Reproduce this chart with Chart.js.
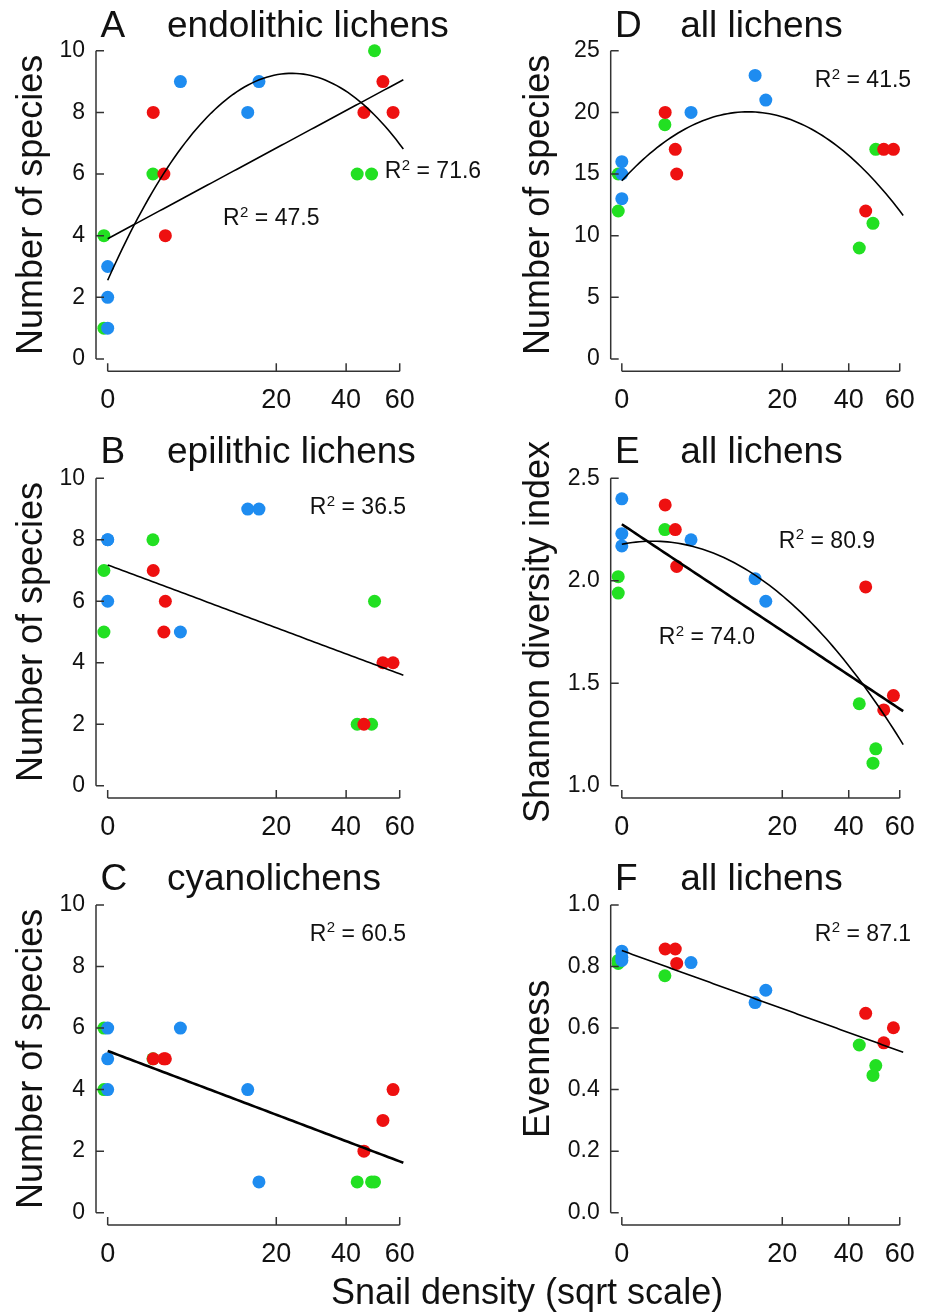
<!DOCTYPE html>
<html>
<head>
<meta charset="utf-8">
<script src="https://cdn.jsdelivr.net/npm/chart.js@4.4.1/dist/chart.umd.min.js"></script>
<style>
  html, body { margin: 0; padding: 0; background: #fff; }
  #fig { position: relative; width: 928px; height: 1313px; overflow: hidden; }
  #fig canvas { position: absolute; }
  #xlab {
    position: absolute; left: 331px; top: 1274px;
    font: 36px "Liberation Sans", Arial, sans-serif; line-height: 36px;
    white-space: nowrap; color: #111;
  }
</style>
</head>
<body>
<div id="fig">
  <canvas id="pA" width="520" height="420" style="left:0;top:0"></canvas>
  <canvas id="pD" width="464" height="420" style="left:464px;top:0"></canvas>
  <canvas id="pB" width="520" height="430" style="left:0;top:420px"></canvas>
  <canvas id="pE" width="464" height="430" style="left:464px;top:420px"></canvas>
  <canvas id="pC" width="520" height="463" style="left:0;top:850px"></canvas>
  <canvas id="pF" width="464" height="463" style="left:464px;top:850px"></canvas>
  <div id="xlab">Snail density (sqrt scale)</div>
</div>
<script>
// snail density at each site, three site groups of six
const densityGreen = [0, 0, 1.44, 43.8, 49.0, 50.1];
const densityRed   = [1.46, 2.22, 2.34, 46.2, 53.3, 57.3];
const densityBlue  = [0, 0, 0, 3.72, 13.8, 16.1];

// A: endolithic lichens, number of species
const endoGreen = [4, 1, 6, 6, 6, 10];
const endoRed   = [8, 6, 4, 8, 9, 8];
const endoBlue  = [3, 2, 1, 9, 8, 9];

// B: epilithic lichens
const epiGreen = [7, 5, 8, 2, 2, 6];
const epiRed   = [7, 5, 6, 2, 4, 4];
const epiBlue  = [8, 6, 8, 5, 9, 9];

// C: cyanolichens
const cyanoGreen = [6, 4, 5, 1, 1, 1];
const cyanoRed   = [5, 5, 5, 2, 3, 4];
const cyanoBlue  = [6, 5, 4, 6, 4, 1];

// D: all lichens, number of species
const allGreen = [15, 12, 19, 9, 11, 17];
const allRed   = [20, 17, 15, 12, 17, 17];
const allBlue  = [16, 15, 13, 20, 23, 21];

// E: Shannon diversity
const shannonGreen = [2.02, 1.94, 2.25, 1.40, 1.11, 1.18];
const shannonRed   = [2.37, 2.25, 2.07, 1.97, 1.37, 1.44];
const shannonBlue  = [2.40, 2.23, 2.17, 2.20, 2.01, 1.90];

// F: evenness
const evenGreen = [0.81, 0.82, 0.77, 0.545, 0.446, 0.478];
const evenRed   = [0.857, 0.857, 0.81, 0.648, 0.552, 0.601];
const evenBlue  = [0.85, 0.83, 0.82, 0.813, 0.683, 0.723];

// R² of the fits, linear first
const r2Endo = ["47.5", "71.6"];
const r2Epi = ["36.5"];
const r2Cyano = ["60.5"];
const r2All = ["41.5"];
const r2Shannon = ["74.0", "80.9"];
const r2Even = ["87.1"];

const xTicks = [0, 20, 40, 60];
const countTicks = [0, 2, 4, 6, 8, 10];
const allTicks = [0, 5, 10, 15, 20, 25];
const shannonTicks = [1.0, 1.5, 2.0, 2.5];
const evenTicks = [0, 0.2, 0.4, 0.6, 0.8, 1.0];

const FONT = '"Liberation Sans", Arial, Helvetica, sans-serif';
const INK = '#111';
const AXIS = '#333';
const COL_GREEN = '#22e022';
const COL_RED = '#ee1010';
const COL_BLUE = '#1e8cf0';

// sqrt axis: plotted in sqrt(density) units
const X_MIN = -0.31, X_MAX = 8.06;
const FIT_END = Math.sqrt(61.5);
// zero-density green sites are drawn just left of the others
const ZERO_SHIFT = { green: -0.1, red: 0, blue: 0 };

const panels = [
  { id: 'pA', col: 0, h: 420, top: 38.4, bottom: 371.3, titleY: 36.7, letter: 'A', name: 'endolithic lichens',
    ys: [endoGreen, endoRed, endoBlue], yMin: -0.4, yMax: 10.4, yTicks: countTicks, dec: 0,
    yTitle: 'Number of species', fits: [[1, 1.6], [2, 1.6]], r2: r2Endo, r2Pos: [[223, 225], [384.7, 178.3]] },
  { id: 'pD', col: 1, h: 420, top: 38.4, bottom: 371.3, titleY: 36.7, letter: 'D', name: 'all lichens',
    ys: [allGreen, allRed, allBlue], yMin: -1, yMax: 26, yTicks: allTicks, dec: 0,
    yTitle: 'Number of species', fits: [[2, 1.6]], r2: r2All, r2Pos: [[350.7, 87.3]] },
  { id: 'pB', col: 0, h: 430, top: 46, bottom: 378, titleY: 42.7, letter: 'B', name: 'epilithic lichens',
    ys: [epiGreen, epiRed, epiBlue], yMin: -0.4, yMax: 10.4, yTicks: countTicks, dec: 0,
    yTitle: 'Number of species', fits: [[1, 1.6]], r2: r2Epi, r2Pos: [[309.7, 94]] },
  { id: 'pE', col: 1, h: 430, top: 46, bottom: 378, titleY: 42.7, letter: 'E', name: 'all lichens',
    ys: [shannonGreen, shannonRed, shannonBlue], yMin: 0.94, yMax: 2.56, yTicks: shannonTicks, dec: 1,
    yTitle: 'Shannon diversity index', fits: [[1, 2.6], [2, 1.6]], r2: r2Shannon, r2Pos: [[194.7, 224], [314.7, 127.7]] },
  { id: 'pC', col: 0, h: 463, top: 42.7, bottom: 375, titleY: 40, letter: 'C', name: 'cyanolichens',
    ys: [cyanoGreen, cyanoRed, cyanoBlue], yMin: -0.4, yMax: 10.4, yTicks: countTicks, dec: 0,
    yTitle: 'Number of species', fits: [[1, 2.6]], r2: r2Cyano, r2Pos: [[309.7, 90.7]] },
  { id: 'pF', col: 1, h: 463, top: 42.7, bottom: 375, titleY: 40, letter: 'F', name: 'all lichens',
    ys: [evenGreen, evenRed, evenBlue], yMin: -0.04, yMax: 1.04, yTicks: evenTicks, dec: 1,
    yTitle: 'Evenness', fits: [[1, 1.6]], r2: r2Even, r2Pos: [[350.7, 90.7]] }
];

// per column: canvas width, y axis position, y title baseline, title offsets
const columns = [
  { w: 520, axisX: 96, yTitleX: 41.7, letterDX: 4.5, nameDX: 71 },
  { w: 464, axisX: 146.7, yTitleX: 85, letterDX: 4.2, nameDX: 69.5 }
];
const PLOT_W = (X_MAX - X_MIN) * 37.7;

// least squares polynomial via normal equations
function polyFit(xs, ys, degree) {
  const n = degree + 1;
  const A = Array.from({ length: n }, () => new Array(n + 1).fill(0));
  xs.forEach((x, k) => {
    for (let i = 0; i < n; i++) {
      for (let j = 0; j < n; j++) A[i][j] += Math.pow(x, i + j);
      A[i][n] += ys[k] * Math.pow(x, i);
    }
  });
  for (let i = 0; i < n; i++) {
    let p = i;
    for (let r = i + 1; r < n; r++) if (Math.abs(A[r][i]) > Math.abs(A[p][i])) p = r;
    [A[i], A[p]] = [A[p], A[i]];
    for (let r = 0; r < n; r++) {
      if (r === i) continue;
      const f = A[r][i] / A[i][i];
      for (let c = i; c <= n; c++) A[r][c] -= f * A[i][c];
    }
  }
  return A.map((row, i) => row[n] / row[i]);
}

function fitCurve(coef) {
  const pts = [];
  for (let k = 0; k <= 80; k++) {
    const x = FIT_END * k / 80;
    pts.push({ x, y: coef.reduce((s, c, i) => s + c * Math.pow(x, i), 0) });
  }
  return pts;
}

function pointSet(dens, vals, color, shift, order) {
  return {
    data: dens.map((d, i) => ({ x: Math.sqrt(d) + (d === 0 ? shift : 0), y: vals[i] })),
    backgroundColor: color, borderWidth: 0, pointRadius: 6.5, order
  };
}

// R style axes: lines span first to last tick, ticks point inward, plus titles and R² notes
function panelDecor(p, c) {
  return {
    id: 'panelDecor',
    afterDraw(chart) {
      const { ctx, chartArea, scales: { x, y } } = chart;
      ctx.save();
      ctx.strokeStyle = AXIS;
      ctx.lineWidth = 1.5;
      const ax = chartArea.left, ay = chartArea.bottom;
      const yTop = y.getPixelForValue(p.yTicks[p.yTicks.length - 1]);
      const yBot = y.getPixelForValue(p.yTicks[0]);
      ctx.beginPath();
      ctx.moveTo(ax, yTop); ctx.lineTo(ax, yBot);
      p.yTicks.forEach(v => { const py = y.getPixelForValue(v); ctx.moveTo(ax, py); ctx.lineTo(ax + 8, py); });
      const x0 = x.getPixelForValue(0), x1 = x.getPixelForValue(Math.sqrt(xTicks[xTicks.length - 1]));
      ctx.moveTo(x0, ay); ctx.lineTo(x1, ay);
      xTicks.forEach(v => { const px = x.getPixelForValue(Math.sqrt(v)); ctx.moveTo(px, ay); ctx.lineTo(px, ay - 8); });
      ctx.stroke();

      ctx.fillStyle = INK;
      ctx.textBaseline = 'alphabetic';
      ctx.textAlign = 'left';
      ctx.font = '37px ' + FONT;
      ctx.fillText(p.letter, ax + c.letterDX, p.titleY);
      ctx.fillText(p.name, ax + c.nameDX, p.titleY);

      ctx.save();
      ctx.translate(c.yTitleX, (chartArea.top + chartArea.bottom) / 2);
      ctx.rotate(-Math.PI / 2);
      ctx.textAlign = 'center';
      ctx.font = '36px ' + FONT;
      ctx.fillText(p.yTitle, 0, 0);
      ctx.restore();

      p.r2.forEach((txt, i) => {
        let [tx, ty] = p.r2Pos[i];
        ctx.font = '23px ' + FONT;
        ctx.fillText('R', tx, ty);
        tx += ctx.measureText('R').width;
        ctx.font = '15px ' + FONT;
        ctx.fillText('2', tx + 0.5, ty - 8.5);
        tx += ctx.measureText('2').width + 0.5;
        ctx.font = '23px ' + FONT;
        ctx.fillText(' = ' + txt, tx, ty);
      });
      ctx.restore();
    }
  };
}

panels.forEach(p => {
  const c = columns[p.col];
  const sx = { green: densityGreen, red: densityRed, blue: densityBlue };
  const allX = [...densityGreen, ...densityRed, ...densityBlue].map(Math.sqrt);
  const allY = [...p.ys[0], ...p.ys[1], ...p.ys[2]];

  const datasets = p.fits.map(([deg, w]) => ({
    data: fitCurve(polyFit(allX, allY, deg)),
    showLine: true, borderColor: '#000', borderWidth: w, pointRadius: 0, tension: 0, order: 0
  }));
  datasets.push(pointSet(sx.blue, p.ys[2], COL_BLUE, ZERO_SHIFT.blue, 1));
  datasets.push(pointSet(sx.red, p.ys[1], COL_RED, ZERO_SHIFT.red, 2));
  datasets.push(pointSet(sx.green, p.ys[0], COL_GREEN, ZERO_SHIFT.green, 3));

  new Chart(document.getElementById(p.id), {
    type: 'scatter',
    data: { datasets },
    options: {
      responsive: false,
      animation: false,
      events: [],
      layout: { padding: { top: p.top, left: 0, bottom: 0, right: c.w - c.axisX - PLOT_W } },
      plugins: { legend: { display: false }, tooltip: { enabled: false } },
      scales: {
        x: {
          type: 'linear', min: X_MIN, max: X_MAX,
          grid: { display: false, drawTicks: false },
          border: { display: false },
          afterBuildTicks: s => { s.ticks = xTicks.map(v => ({ value: Math.sqrt(v) })); },
          afterFit: s => { s.height = p.h - p.bottom; },
          ticks: {
            callback: (v, i) => String(xTicks[i]),
            autoSkip: false, maxRotation: 0, padding: 13,
            color: INK, font: { family: FONT, size: 27 }
          }
        },
        y: {
          type: 'linear', min: p.yMin, max: p.yMax,
          grid: { display: false, drawTicks: false },
          border: { display: false },
          afterBuildTicks: s => { s.ticks = p.yTicks.map(v => ({ value: v })); },
          afterFit: s => { s.width = c.axisX; },
          ticks: {
            callback: (v, i) => p.yTicks[i].toFixed(p.dec),
            padding: 11,
            color: INK, font: { family: FONT, size: 23 }
          }
        }
      }
    },
    plugins: [panelDecor(p, c)]
  });
});
</script>
</body>
</html>
